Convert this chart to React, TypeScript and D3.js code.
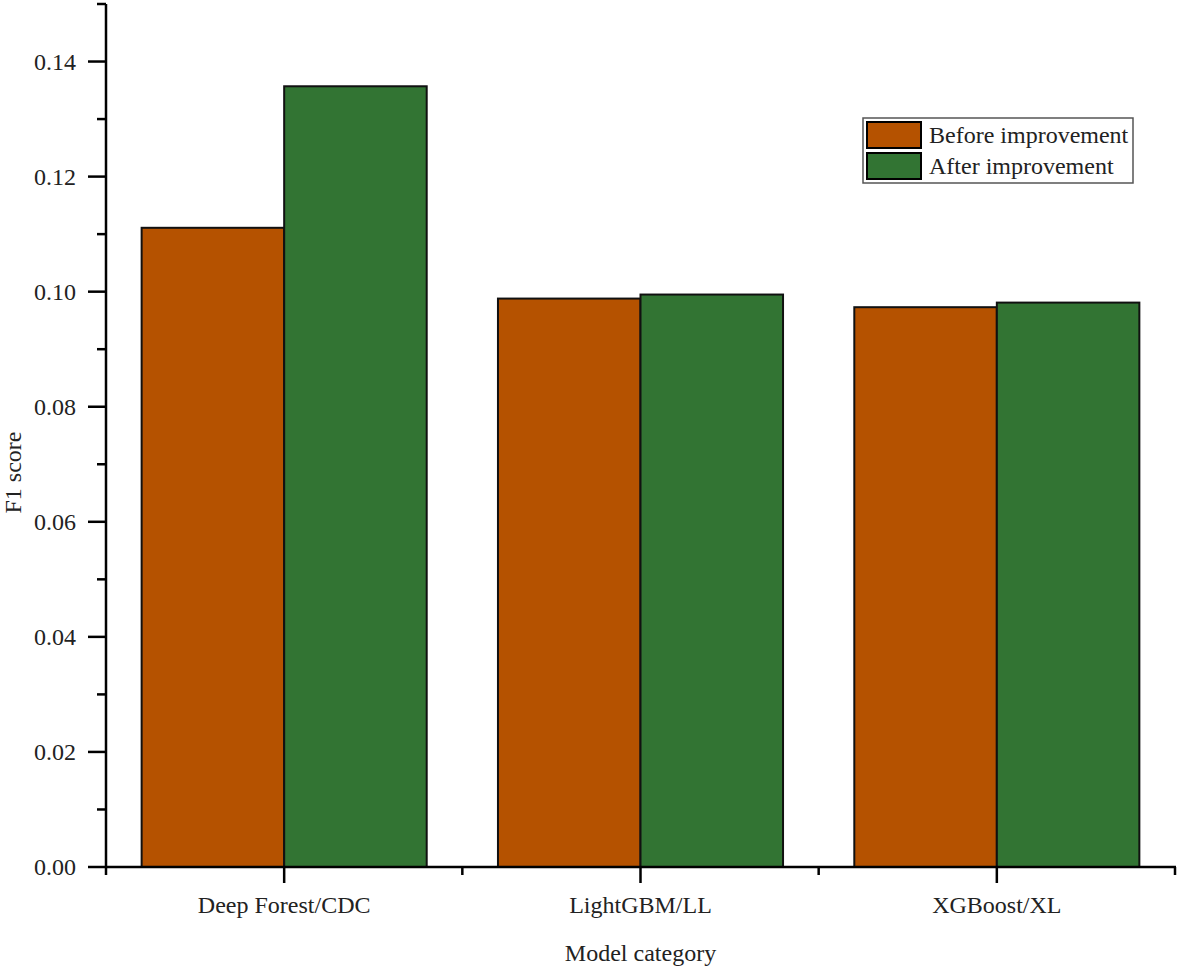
import React from "react";
import * as d3 from "d3";

const categories = ["Deep Forest/CDC", "LightGBM/LL", "XGBoost/XL"];
const seriesNames = ["Before improvement", "After improvement"];
const beforeValues = [0.1111, 0.0988, 0.0973];
const afterValues = [0.1357, 0.0995, 0.0981];
const yTicks = [0, 0.02, 0.04, 0.06, 0.08, 0.1, 0.12, 0.14];
const yMinorTicks = [0.01, 0.03, 0.05, 0.07, 0.09, 0.11, 0.13, 0.15];

const colors = ["#B55200", "#327433"];
const W = 1181;
const H = 969;
const left = 106;
const right = 1175;
const top = 4;
const bottom = 867;
const font = "'Liberation Serif', 'Times New Roman', serif";

export default function App() {
  const x = d3.scaleBand<string>().domain(categories).range([left, right]).padding(0);
  const inner = d3
    .scaleBand<string>()
    .domain(seriesNames)
    .range([x.bandwidth() * 0.1, x.bandwidth() * 0.9])
    .padding(0);
  const y = d3.scaleLinear().domain([0, 0.15]).range([bottom, top]);
  const series = [beforeValues, afterValues];
  const boundaries = [left, ...categories.map((c) => (x(c) as number) + x.bandwidth())];

  return (
    <svg
      width={W}
      height={H}
      style={{ position: "absolute", left: 0, top: 0, background: "#fff" }}
      fontFamily={font}
    >
      <rect x={0} y={0} width={W} height={H} fill="#fff" />
      {/* bars */}
      {categories.map((c, ci) =>
        seriesNames.map((s, si) => {
          const v = series[si][ci];
          const bx = (x(c) as number) + (inner(s) as number);
          return (
            <rect
              key={c + s}
              x={bx}
              y={y(v)}
              width={inner.bandwidth()}
              height={bottom - y(v)}
              fill={colors[si]}
              stroke="#111"
              strokeWidth={2}
            />
          );
        })
      )}
      {/* y axis */}
      <line x1={left} x2={left} y1={top} y2={bottom} stroke="#000" strokeWidth={2.5} />
      {yTicks.map((t) => (
        <g key={t}>
          <line x1={left - 18} x2={left} y1={y(t)} y2={y(t)} stroke="#000" strokeWidth={2.5} />
          <text
            x={left - 30}
            y={y(t)}
            dy="0.35em"
            textAnchor="end"
            fontSize={24}
            fill="#222"
          >
            {t.toFixed(2)}
          </text>
        </g>
      ))}
      {yMinorTicks.map((t) => (
        <line key={t} x1={left - 9} x2={left} y1={y(t)} y2={y(t)} stroke="#000" strokeWidth={2.5} />
      ))}
      {/* x axis */}
      <line x1={left - 1} x2={right + 1} y1={bottom} y2={bottom} stroke="#000" strokeWidth={2.5} />
      {boundaries.map((b, i) => (
        <line key={i} x1={b} x2={b} y1={bottom} y2={bottom + 8} stroke="#000" strokeWidth={2.5} />
      ))}
      {categories.map((c) => {
        const cx = (x(c) as number) + x.bandwidth() / 2;
        return (
          <g key={c}>
            <line x1={cx} x2={cx} y1={bottom} y2={bottom + 16} stroke="#000" strokeWidth={2.5} />
            <text x={cx} y={913} textAnchor="middle" fontSize={24} fill="#222">
              {c}
            </text>
          </g>
        );
      })}
      {/* axis titles */}
      <text x={(left + right) / 2} y={961} textAnchor="middle" fontSize={24} fill="#222">
        Model category
      </text>
      <text
        transform={`translate(21, ${(top + bottom) / 2 + 37}) rotate(-90)`}
        textAnchor="middle"
        fontSize={24}
        fill="#222"
      >
        F1 score
      </text>
      {/* legend */}
      <rect x={863} y={118} width={270} height={65} fill="#fff" stroke="#555" strokeWidth={1.5} />
      {seriesNames.map((s, i) => (
        <g key={s}>
          <rect
            x={867}
            y={122 + i * 31}
            width={54}
            height={26}
            fill={colors[i]}
            stroke="#000"
            strokeWidth={2}
          />
          <text x={929} y={135 + i * 31} dy="0.35em" fontSize={24} fill="#222">
            {s}
          </text>
        </g>
      ))}
    </svg>
  );
}
